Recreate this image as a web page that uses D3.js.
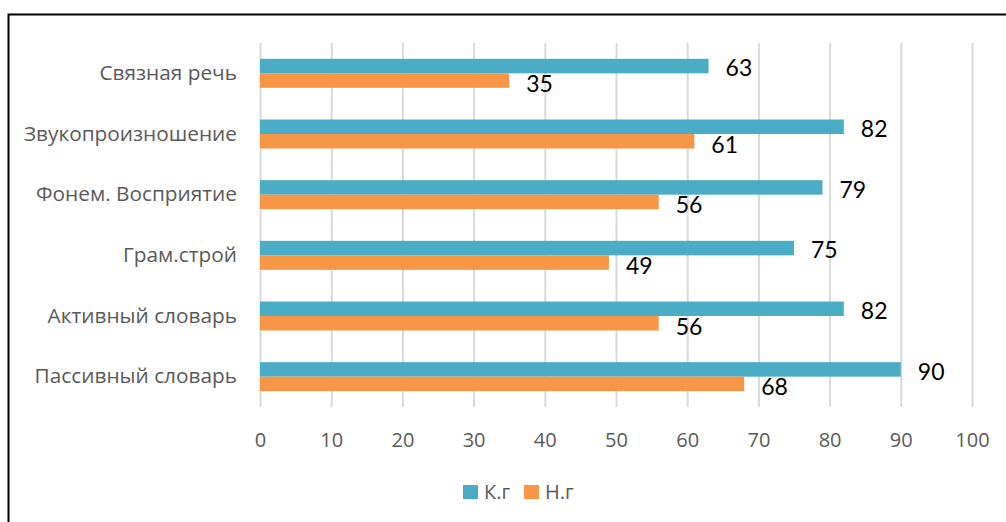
<!DOCTYPE html>
<html>
<head>
<meta charset="utf-8">
<script src="https://cdn.jsdelivr.net/npm/d3@7"></script>
<style>
	body { margin: 0; background: #fff; }
	svg { display: block; }
	.cat text, .xax text { fill: #595959; font-family: "Open Sans", sans-serif; }
	.lbl { font-family: Lato, "Open Sans", sans-serif; fill: #000; }
</style>
</head>
<body>
<div id="chart"></div>
<script>
var categories = ["Связная речь", "Звукопроизношение", "Фонем. Восприятие", "Грам.строй", "Активный словарь", "Пассивный словарь"];
var seriesNames = ["К.г", "Н.г"];
var kg = [63, 82, 79, 75, 82, 90];
var ng = [35, 61, 56, 49, 56, 68];
var xTicks = [0, 10, 20, 30, 40, 50, 60, 70, 80, 90, 100];
var colors = ["#4bacc6", "#f79646"];

var W = 1006, H = 522;
var margin = { top: 43, left: 260, right: 34, bot: 115 };
var w = W - margin.left - margin.right, h = H - margin.top - margin.bot;

var svg = d3.select("#chart").append("svg").attr("width", W).attr("height", H);

// frame (only top and left visible)
svg.append("path").attr("d", "M8.5,530 L8.5,14.5 L1010,14.5")
	.attr("fill", "none").attr("stroke", "#000").attr("stroke-width", 2);

var g = svg.append("g").attr("transform", "translate(" + margin.left + "," + margin.top + ")");

var xSc = d3.scaleLinear().domain([0, 100]).range([0, w]);
var ySc = d3.scaleBand().domain(categories).range([0, h]);
var sub = d3.scaleBand().domain(seriesNames).range([0, 29]);

// gridlines
g.append("g").selectAll("line").data(xTicks).enter().append("line")
	.attr("x1", function(d) { return xSc(d) + 0.5; })
	.attr("x2", function(d) { return xSc(d) + 0.5; })
	.attr("y1", 0).attr("y2", h)
	.attr("stroke", "#d9d9d9").attr("stroke-width", 2);

var xAxis = d3.axisBottom(xSc).tickValues(xTicks).tickSize(0).tickPadding(0);
g.append("g").attr("class", "xax").attr("transform", "translate(0," + (h + 33) + ")").call(xAxis)
	.call(function(s) { s.select(".domain").remove(); })
	.selectAll("text").attr("font-size", "20px").attr("dy", "0.35em");

var yAxis = d3.axisLeft(ySc).tickSize(0).tickPadding(23);
g.append("g").attr("class", "cat").call(yAxis)
	.call(function(s) { s.select(".domain").remove(); })
	.selectAll("text").attr("font-size", "20.8px").attr("font-family", "'Open Sans', sans-serif");

var rows = categories.map(function(c, i) {
	return [{ cat: c, s: seriesNames[0], v: kg[i] }, { cat: c, s: seriesNames[1], v: ng[i] }];
});

var grp = g.append("g").selectAll("g").data(rows).enter().append("g")
	.attr("transform", function(d) { return "translate(0," + (ySc(d[0].cat) + ySc.bandwidth() / 2 - 14.5) + ")"; });

grp.selectAll("rect").data(function(d) { return d; }).enter().append("rect")
	.attr("x", 0)
	.attr("y", function(d) { return sub(d.s); })
	.attr("width", function(d) { return xSc(d.v); })
	.attr("height", sub.bandwidth())
	.attr("fill", function(d, i) { return colors[i]; });

grp.selectAll("text").data(function(d) { return d; }).enter().append("text")
	.attr("class", "lbl")
	.attr("x", function(d) { return xSc(d.v) + 17; })
	.attr("y", function(d, i) { return sub(d.s) + sub.bandwidth() / 2 + (i ? 3 : 2); })
	.attr("dy", "0.36em")
	.attr("font-size", "23px")
	.text(function(d) { return d.v; });

// legend
var leg = svg.append("g").attr("transform", "translate(463,485)");
var li = leg.selectAll("g").data(seriesNames).enter().append("g")
	.attr("transform", function(d, i) { return "translate(" + (i * 61) + ",0)"; });
li.append("rect").attr("width", 15).attr("height", 14).attr("fill", function(d, i) { return colors[i]; });
li.append("text").attr("x", 21).attr("y", 7).attr("dy", "0.36em")
	.attr("font-size", "20px").attr("fill", "#595959").attr("font-family", "'Open Sans', sans-serif")
	.text(function(d) { return d; });
</script>
</body>
</html>
